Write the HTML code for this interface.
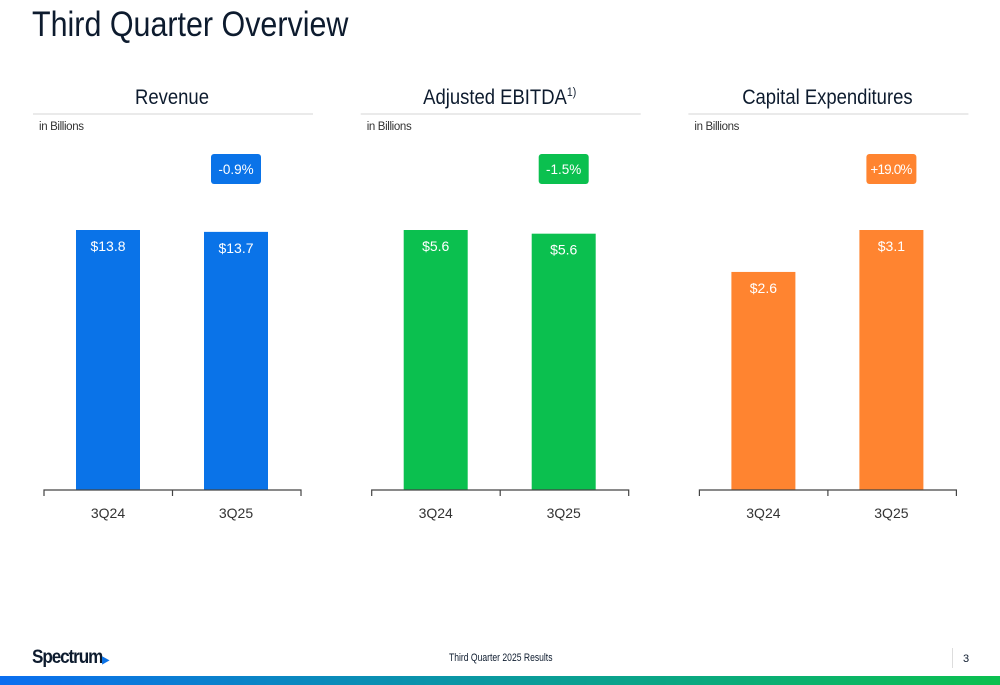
<!DOCTYPE html>
<html><head><meta charset="utf-8"><style>
body{margin:0;width:1000px;height:685px;background:#fff;font-family:"Liberation Sans",sans-serif;position:relative;overflow:hidden;color:#0d1b2e}
.abs{position:absolute}
</style></head><body>
<div class="abs" style="left:32px;top:5px;font-size:35px;color:#0d1b2e;transform:scaleX(0.87);transform-origin:0 0;white-space:nowrap">Third Quarter Overview</div>
<svg class="abs" style="left:0;top:0" width="1000" height="685" id="chart"></svg>
<div class="abs" style="left:32px;top:647px;font-size:19px;font-weight:bold;letter-spacing:-1.2px;color:#0d1b2e;transform:scaleX(0.9);transform-origin:0 0;white-space:nowrap">Spectrum<span style="color:#0a73e8;font-size:10px">&#9654;</span></div>
<div class="abs" style="left:449px;top:652px;font-size:11px;transform:scaleX(0.78);transform-origin:0 0;white-space:nowrap">Third Quarter 2025 Results</div>
<div class="abs" style="left:952px;top:648px;width:1px;height:20px;background:#ddd"></div>
<div class="abs" style="left:963px;top:653px;font-size:11px">3</div>
<div class="abs" style="left:0;top:676px;width:1000px;height:9px;background:linear-gradient(90deg,#0a6ef0,#0a9a9e 50%,#0bc04f)"></div>
<script>
const titles=["Revenue","Adjusted EBITDA","Capital Expenditures"];
const categories=["3Q24","3Q25"];
const revenue=[13.8,13.7];
const ebitda=[5.65,5.57];
const capex=[2.6,3.1];
const revenueLabels=["$13.8","$13.7"];
const ebitdaLabels=["$5.6","$5.6"];
const capexLabels=["$2.6","$3.1"];
const changes=["-0.9%","-1.5%","+19.0%"];
const series=[revenue,ebitda,capex];
const labels=[revenueLabels,ebitdaLabels,capexLabels];
const colors=["#0a73e8","#0bc04f","#ff8430"];
const names=["revenue","ebitda","capex"];
const svg=document.getElementById('chart');
const NS="http://www.w3.org/2000/svg";
function mk(t,a,p){const e=document.createElementNS(NS,t);for(const k in a)e.setAttribute(k,a[k]);(p||svg).appendChild(e);return e;}
series.forEach((vals,i)=>{
  const ox=i*327.7;
  const g=mk('g',{});
  
  
  const tg=mk('g',{transform:`translate(${ox+172},104) scale(0.88,1)`},g);
  const t=mk('text',{x:0,y:0,'text-anchor':'middle','font-size':21,fill:'#0d1b2e'},tg);
  t.textContent=titles[i];
  
  
  if(i==1){const s=mk('tspan',{dy:-8,'font-size':12},t);s.textContent='1)';}
  const hl=mk('line',{x1:ox+33,x2:ox+313,y1:114,y2:114,stroke:'#e3e3e3','stroke-width':1.5},g);
  
  
  const u=mk('text',{x:ox+39,y:130,'font-size':11.5,fill:'#333',textLength:45},g);
  u.textContent='in Billions';
  
  
  const base=490, maxH=260, mx=Math.max(...vals);
  const y=v=>base-v/mx*maxH;
  const xc=k=>ox+108+k*128;
  vals.forEach((v,k)=>{
    const r=mk('rect',{x:xc(k)-32,y:y(v),width:64,height:base-y(v),fill:colors[i]},g);
    
    
    const l=mk('text',{x:xc(k),y:y(v)+21,'text-anchor':'middle','font-size':14,fill:'#fff'},g);
    l.textContent=labels[i][k];
    
    
    const c=mk('text',{x:xc(k),y:518,'text-anchor':'middle','font-size':14,fill:'#333'},g);
    c.textContent=categories[k];
    
    
  });
  const ax=mk('path',{d:`M${ox+44} 496V490H${ox+301}V496M${ox+172.5} 490V496`,stroke:'#444','stroke-width':1.2,fill:'none'},g);
  
  
  const b=mk('rect',{x:xc(1)-25,y:154,width:50,height:30,rx:3,fill:colors[i]},g);
  
  
  const bt=mk('text',{x:xc(1),y:174,'text-anchor':'middle','font-size':13.5,fill:'#fff'},g);
  bt.textContent=changes[i];
  if(i==2) bt.setAttribute('textLength','42');
  
  
});
</script>
</body></html>
